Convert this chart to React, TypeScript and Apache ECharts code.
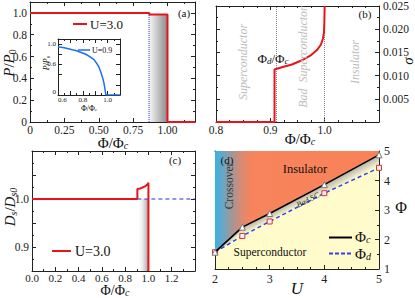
import React, { useEffect, useRef } from 'react';
import * as echarts from 'echarts';

const FONT = '"Liberation Serif", "Times New Roman", serif';

// ---------- Panel (a): P/P0 vs Phi/Phi_c, U=3.0 ----------
const aX = [0, 0.868, 0.868, 1.0, 1.0, 1.2];
const aY = [1.0, 1.0, 0.985, 0.985, 0, 0];
const aDotX = [0.866, 0.866];
const aDotY = [0, 0.985];
const aShadeX = [0.868, 1.0];
const aShadeY = [0, 0.985];

// ---------- Inset: U=0.9 ----------
const insX = [0.6, 0.65, 0.716, 0.75, 0.824, 0.86, 0.89, 0.91, 0.93, 0.945, 0.96, 0.97, 0.978, 0.986, 1.1];
const insY = [0.95, 0.93, 0.89, 0.87, 0.8, 0.75, 0.695, 0.63, 0.55, 0.45, 0.34, 0.24, 0.13, 0, 0];

// ---------- Panel (b): sigma ----------
const bX = [0.8, 0.9077, 0.9077, 0.9212, 0.9397, 0.9582, 0.9735, 0.9858, 0.9932, 0.9969, 0.9988, 0.9994, 1.0];
const bY = [0, 0, 0.0113, 0.0118, 0.0124, 0.0133, 0.0143, 0.0155, 0.0167, 0.018, 0.0194, 0.0215, 0.025];
const bMarks = [0.9077, 1.0];

// ---------- Panel (c): Ds/Ds0 ----------
const cX = [0, 0.905, 0.905, 0.93, 0.96, 0.98, 0.995, 1.0, 1.0];
const cY = [1.0, 1.0, 1.021, 1.022, 1.025, 1.028, 1.031, 1.034, 0.85];
const cDashX = [0.905, 1.4];
const cDashY = [1.0, 1.0];
const cShadeX = [0.905, 1.0];
const cShadeY = [0.85, 1.0];

// ---------- Panel (d): phase diagram ----------
const dU = [2, 2.5, 3, 4, 5];
const dPhiC = [1.57, 2.42, 2.88, 3.86, 4.87];
const dPhiD = [1.57, 2.12, 2.61, 3.57, 4.43];

const zip = (xs: number[], ys: number[]) => xs.map((x, i) => [x, ys[i]]);

const AX = '#222';

function mkAxis(
  gridIndex: number, min: number, max: number, interval: number,
  position: string, showLabel: boolean, minorSplit: number,
  fmt?: (v: number) => string, fontSize = 11.5, margin = 3
) {
  return {
    type: 'value', gridIndex, min, max, interval, position,
    axisLine: { show: true, onZero: false, lineStyle: { color: AX, width: 1 } },
    axisTick: { show: true, inside: true, length: 4, lineStyle: { color: AX, width: 1 } },
    minorTick: { show: minorSplit > 1, splitNumber: minorSplit, length: 2, lineStyle: { color: AX, width: 1 } },
    splitLine: { show: false },
    minorSplitLine: { show: false },
    axisLabel: {
      show: showLabel, fontFamily: FONT, fontSize, color: '#222', margin,
      showMaxLabel: false, showMinLabel: true,
      formatter: fmt,
    },
  };
}

const near = (v: number, step: number) => Math.abs(v / step - Math.round(v / step)) < 1e-6;

function richText(x: number, y: number, text: string, size: number, opts: any = {}) {
  const sub = Math.round(size * 0.68);
  const col = opts.color || '#111';
  const lh = opts.lh || size + 2;
  return {
    type: 'text', x, y, z: 100, rotation: opts.rotation || 0,
    style: {
      text,
      fill: col,
      font: `${opts.italic ? 'italic ' : ''}${size}px ${FONT}`,
      align: opts.align || 'center',
      verticalAlign: 'middle',
      rich: {
        n: { fontFamily: FONT, fontSize: size, lineHeight: lh, verticalAlign: 'middle', fill: col },
        i: { fontFamily: FONT, fontSize: size, fontStyle: 'italic', lineHeight: lh, verticalAlign: 'middle', fill: col },
        s: { fontFamily: FONT, fontSize: sub, fontStyle: 'italic', lineHeight: sub, verticalAlign: 'bottom', fill: col },
        s0: { fontFamily: FONT, fontSize: sub, lineHeight: sub, verticalAlign: 'bottom', fill: col },
      },
    },
  };
}

function legendLine(x1: number, x2: number, y: number, color: string, width: number, dash?: number[]) {
  return {
    type: 'line', z: 100,
    shape: { x1, y1: y, x2, y2: y },
    style: { stroke: color, lineWidth: width, lineDash: dash },
  };
}

export default function App() {
  const ref = useRef<HTMLDivElement>(null);

  useEffect(() => {
    if (!ref.current) return;
    const chart = echarts.init(ref.current, undefined, { renderer: 'svg' });

    const grids = [
      { left: 30, top: 2, width: 165, height: 120 },   // a
      { left: 58, top: 39, width: 62, height: 56 },    // inset
      { left: 216, top: 3, width: 163, height: 119 },  // b
      { left: 32, top: 151, width: 163, height: 120 }, // c
      { left: 215, top: 151, width: 164, height: 118, show: true, backgroundColor: '#FFFBCB', borderWidth: 0 }, // d
    ];

    const fa = (v: number) => (v === 0 ? '0' : v.toFixed(2));
    const fay = (v: number) => (v === 0 ? '0' : v.toFixed(1));
    const fins = (v: number) => (near(v, 0.2) && v > 0.5 ? v.toFixed(1) : '');
    const finsy = (v: number) => (v === 0 ? '0' : (near(v - 0.2, 0.4) ? v.toFixed(1) : ''));
    const fb = (v: number) => v.toFixed(1);
    const fby = (v: number) => (v === 0 ? '' : v.toFixed(3));
    const fc = (v: number) => v.toFixed(1);
    const fcy = (v: number) => (near(v, 0.1) ? v.toFixed(1) : '');
    const fd = (v: number) => String(Math.round(v));

    const xAxis = [
      mkAxis(0, 0, 1.2, 0.25, 'bottom', true, 2, fa, 11.5, 2),
      mkAxis(0, 0, 1.2, 0.25, 'top', false, 2),
      mkAxis(1, 0.6, 1.1, 0.1, 'bottom', true, 2, fins, 7, 1),
      mkAxis(1, 0.6, 1.1, 0.1, 'top', false, 2),
      mkAxis(2, 0.8, 1.1, 0.1, 'bottom', true, 4, fb, 11.5, 2),
      mkAxis(2, 0.8, 1.1, 0.1, 'top', false, 4),
      mkAxis(3, 0, 1.4, 0.2, 'bottom', true, 2, fc, 11, 1),
      mkAxis(3, 0, 1.4, 0.2, 'top', false, 2),
      mkAxis(4, 2, 5, 1, 'bottom', true, 4, fd, 12, 4),
      mkAxis(4, 2, 5, 1, 'top', false, 4),
    ];
    const yAxis = [
      mkAxis(0, 0, 1.1, 0.2, 'left', true, 2, fay),
      mkAxis(0, 0, 1.1, 0.2, 'right', false, 2),
      mkAxis(1, 0, 1.1, 0.2, 'left', true, 1, finsy, 7, 2),
      mkAxis(1, 0, 1.1, 0.2, 'right', false, 1),
      mkAxis(2, 0, 0.025, 0.005, 'left', false, 2),
      mkAxis(2, 0, 0.025, 0.005, 'right', true, 2, fby, 11.5, 4),
      mkAxis(3, 0.85, 1.1, 0.05, 'left', true, 2, fcy),
      mkAxis(3, 0.85, 1.1, 0.05, 'right', false, 2),
      mkAxis(4, 1, 5, 1, 'left', false, 2),
      mkAxis(4, 1, 5, 1, 'right', true, 2, fd, 12, 5),
    ];
    (yAxis[5] as any).axisLabel.showMaxLabel = true;
    (yAxis[9] as any).axisLabel.showMaxLabel = true;
    (xAxis[8] as any).axisLabel.showMaxLabel = true;
    (xAxis[2] as any).axisLabel.alignMinLabel = 'left';
    (yAxis[2] as any).axisLabel.verticalAlignMinLabel = 'bottom';

    const RED = '#E8141C';
    const BLUE = '#1E6FF0';

    const upperStops = [
      { offset: 0, color: '#38B2DF' },
      { offset: 0.05, color: '#6AA6C6' },
      { offset: 0.1, color: '#A09799' },
      { offset: 0.16, color: '#D88A74' },
      { offset: 0.22, color: '#F7845C' },
      { offset: 1, color: '#FA8258' },
    ];

    const series: any[] = [
      // (a)
      {
        type: 'line', name: 'U=3.0', xAxisIndex: 0, yAxisIndex: 0, data: zip(aX, aY),
        symbol: 'none', lineStyle: { color: RED, width: 2 }, z: 5,
        markArea: {
          silent: true,
          itemStyle: {
            opacity: 1,
            color: new echarts.graphic.LinearGradient(0, 0, 1, 0, [
              { offset: 0, color: '#F6F6F6' },
              { offset: 1, color: '#8A8A8A' },
            ]),
          },
          data: [[{ coord: [aShadeX[0], aShadeY[0]] }, { coord: [aShadeX[1], aShadeY[1]] }]],
        },
      },
      {
        type: 'line', xAxisIndex: 0, yAxisIndex: 0, data: zip(aDotX, aDotY),
        symbol: 'none', lineStyle: { color: '#2233EE', width: 1, type: 'dotted' }, z: 6,
      },
      // inset
      {
        type: 'line', name: 'U=0.9', xAxisIndex: 2, yAxisIndex: 2, data: zip(insX, insY),
        symbol: 'none', lineStyle: { color: BLUE, width: 1.5 }, z: 5,
      },
      // (b)
      {
        type: 'line', xAxisIndex: 4, yAxisIndex: 4, data: zip(bX, bY),
        symbol: 'none', lineStyle: { color: RED, width: 2 }, z: 5,
        markLine: {
          silent: true, symbol: ['none', 'none'], label: { show: false },
          lineStyle: { color: '#888', width: 1, type: 'dotted' },
          data: bMarks.map((x) => ({ xAxis: x })),
        },
      },
      // (c)
      {
        type: 'line', name: 'U=3.0 ', xAxisIndex: 6, yAxisIndex: 6, data: zip(cX, cY),
        symbol: 'none', lineStyle: { color: RED, width: 2 }, z: 5,
        markArea: {
          silent: true,
          itemStyle: {
            opacity: 1,
            color: new echarts.graphic.LinearGradient(0, 0, 1, 0, [
              { offset: 0, color: 'rgba(255,255,255,0)' },
              { offset: 1, color: '#9C9C9C' },
            ]),
          },
          data: [[{ coord: [cShadeX[0], cShadeY[0]] }, { coord: [cShadeX[1], cShadeY[1]] }]],
        },
      },
      {
        type: 'line', xAxisIndex: 6, yAxisIndex: 6, data: zip(cDashX, cDashY),
        symbol: 'none', lineStyle: { color: '#2233DD', width: 1.2, type: [4, 3] }, z: 4,
      },
      // (d) upper region (insulator / crossover)
      {
        type: 'custom', xAxisIndex: 8, yAxisIndex: 8, z: 1, silent: true,
        data: [[dU[0], dPhiC[0]]],
        renderItem: (params: any, api: any) => {
          const pts = dU.map((u, i) => api.coord([u, dPhiC[i]]));
          const tr = api.coord([dU[dU.length - 1], 5]);
          const tl = api.coord([dU[0], 5]);
          const x0 = api.coord([dU[0], 1])[0];
          const x1 = api.coord([dU[dU.length - 1], 1])[0];
          return {
            type: 'polygon',
            shape: { points: [...pts, tr, tl] },
            style: { fill: new echarts.graphic.LinearGradient(x0, 0, x1, 0, upperStops, true), stroke: null },
          };
        },
      },
      // (d) Bad SC band
      {
        type: 'custom', xAxisIndex: 8, yAxisIndex: 8, z: 1, silent: true,
        data: dU.slice(0, -1).map((u, i) => [u, dPhiD[i]]),
        renderItem: (params: any, api: any) => {
          const i = params.dataIndex;
          const a1 = api.coord([dU[i], dPhiC[i]]);
          const a2 = api.coord([dU[i + 1], dPhiC[i + 1]]);
          const b1 = api.coord([dU[i], dPhiD[i]]);
          const b2 = api.coord([dU[i + 1], dPhiD[i + 1]]);
          const dx = a2[0] - a1[0], dy = a2[1] - a1[1];
          const len = Math.hypot(dx, dy);
          let nx = -dy / len, ny = dx / len;
          if (ny < 0) { nx = -nx; ny = -ny; }
          const mx = (a1[0] + a2[0]) / 2, my = (a1[1] + a2[1]) / 2;
          const bx = (b1[0] + b2[0]) / 2, by = (b1[1] + b2[1]) / 2;
          const dist = Math.max(4, (bx - mx) * nx + (by - my) * ny);
          return {
            type: 'polygon',
            shape: { points: [a1, a2, b2, b1] },
            style: {
              fill: new echarts.graphic.LinearGradient(mx, my, mx + nx * dist, my + ny * dist, [
                { offset: 0, color: '#B4B4AE' },
                { offset: 1, color: '#FFFBCB' },
              ], true),
              stroke: null,
            },
          };
        },
      },
      {
        type: 'line', xAxisIndex: 8, yAxisIndex: 8, data: zip(dU, dPhiD), z: 4,
        lineStyle: { color: '#3340EE', width: 1.5, type: [4, 3] },
        symbol: 'rect', symbolSize: 5,
        itemStyle: { color: '#FFF4EC', borderColor: '#D8343A', borderWidth: 1 },
      },
      {
        type: 'line', xAxisIndex: 8, yAxisIndex: 8, data: zip(dU, dPhiC), z: 5,
        lineStyle: { color: '#000', width: 1.6 },
        symbol: 'triangle', symbolSize: 6,
        itemStyle: { color: '#FFFFFF', borderColor: '#777', borderWidth: 1 },
      },
    ];

    const grey = '#BDBDBD';
    const graphic: any[] = [
      // axis names
      richText(9, 63, '{i|P}{n|/}{i|P}{s0|0}', 15, { rotation: Math.PI / 2 }),
      richText(113, 143, '{n|Φ/Φ}{s|c}', 15, { lh: 15 }),
      richText(300, 139, '{n|Φ/Φ}{s|c}', 15, { lh: 15 }),
      richText(408, 61, '{i|σ}', 15, { rotation: Math.PI / 2 }),
      richText(10, 207, '{i|D}{s|s}{n|/}{i|D}{s|s0}', 15, { rotation: Math.PI / 2 }),
      richText(115, 290, '{n|Φ/Φ}{s|c}', 14, { lh: 14 }),
      richText(297, 288, '{i|U}', 17, { lh: 17 }),
      richText(401, 207, '{n|Φ}', 16),
      // inset names
      richText(46, 63, '{i|P}{n|/}{i|P}{s0|0}', 8, { rotation: Math.PI / 2 }),
      richText(89, 108, '{n|Φ/Φ}{s|c}', 8, { lh: 8 }),
      // panel tags
      richText(184, 13, '{n|(a)}', 11),
      richText(365, 14, '{n|(b)}', 11),
      richText(175, 160, '{n|(c)}', 11),
      richText(227, 160, '{n|(d)}', 11),
      // (b) annotations
      richText(273, 58, '{n|Φ}{s|d}{n|/Φ}{s|c}', 13),
      richText(243, 62, 'Superconductor', 12, { rotation: Math.PI / 2, italic: true, color: grey }),
      richText(303, 57, 'Bad  Superconductor', 12, { rotation: Math.PI / 2, italic: true, color: grey }),
      richText(355, 62, 'Insulator', 12, { rotation: Math.PI / 2, italic: true, color: grey }),
      // legends
      legendLine(73, 87, 24, RED, 2),
      richText(90, 24, 'U=3.0', 13, { align: 'left' }),
      legendLine(78, 90, 50, BLUE, 1.5),
      richText(92, 50, 'U=0.9', 8, { align: 'left' }),
      legendLine(52, 71, 251, RED, 2),
      richText(75, 251, 'U=3.0', 14, { align: 'left' }),
      legendLine(329, 352, 237.5, '#000', 2),
      richText(355, 237, '{n|Φ}{s|c}', 15, { align: 'left', lh: 15 }),
      legendLine(329, 352, 253.5, '#3340EE', 2, [4, 2]),
      richText(355, 254, '{n|Φ}{s|d}', 15, { align: 'left', lh: 15 }),
      // (d) annotations
      richText(305, 169, 'Insulator', 12.5),
      richText(229, 186, 'Crossover', 11.5, { rotation: Math.PI / 2, color: '#333' }),
      richText(270, 252, 'Superconductor', 11.5),
      richText(308, 200, 'Bad SC', 8, { rotation: 0.47, italic: true, color: '#222' }),
    ];

    chart.setOption({
      animation: false,
      backgroundColor: '#fff',
      grid: grids,
      xAxis,
      yAxis,
      series,
      graphic,
    });

    return () => chart.dispose();
  }, []);

  return (
    <div
      ref={ref}
      style={{ position: 'absolute', left: 0, top: 0, width: 415, height: 298, background: '#fff' }}
    />
  );
}
